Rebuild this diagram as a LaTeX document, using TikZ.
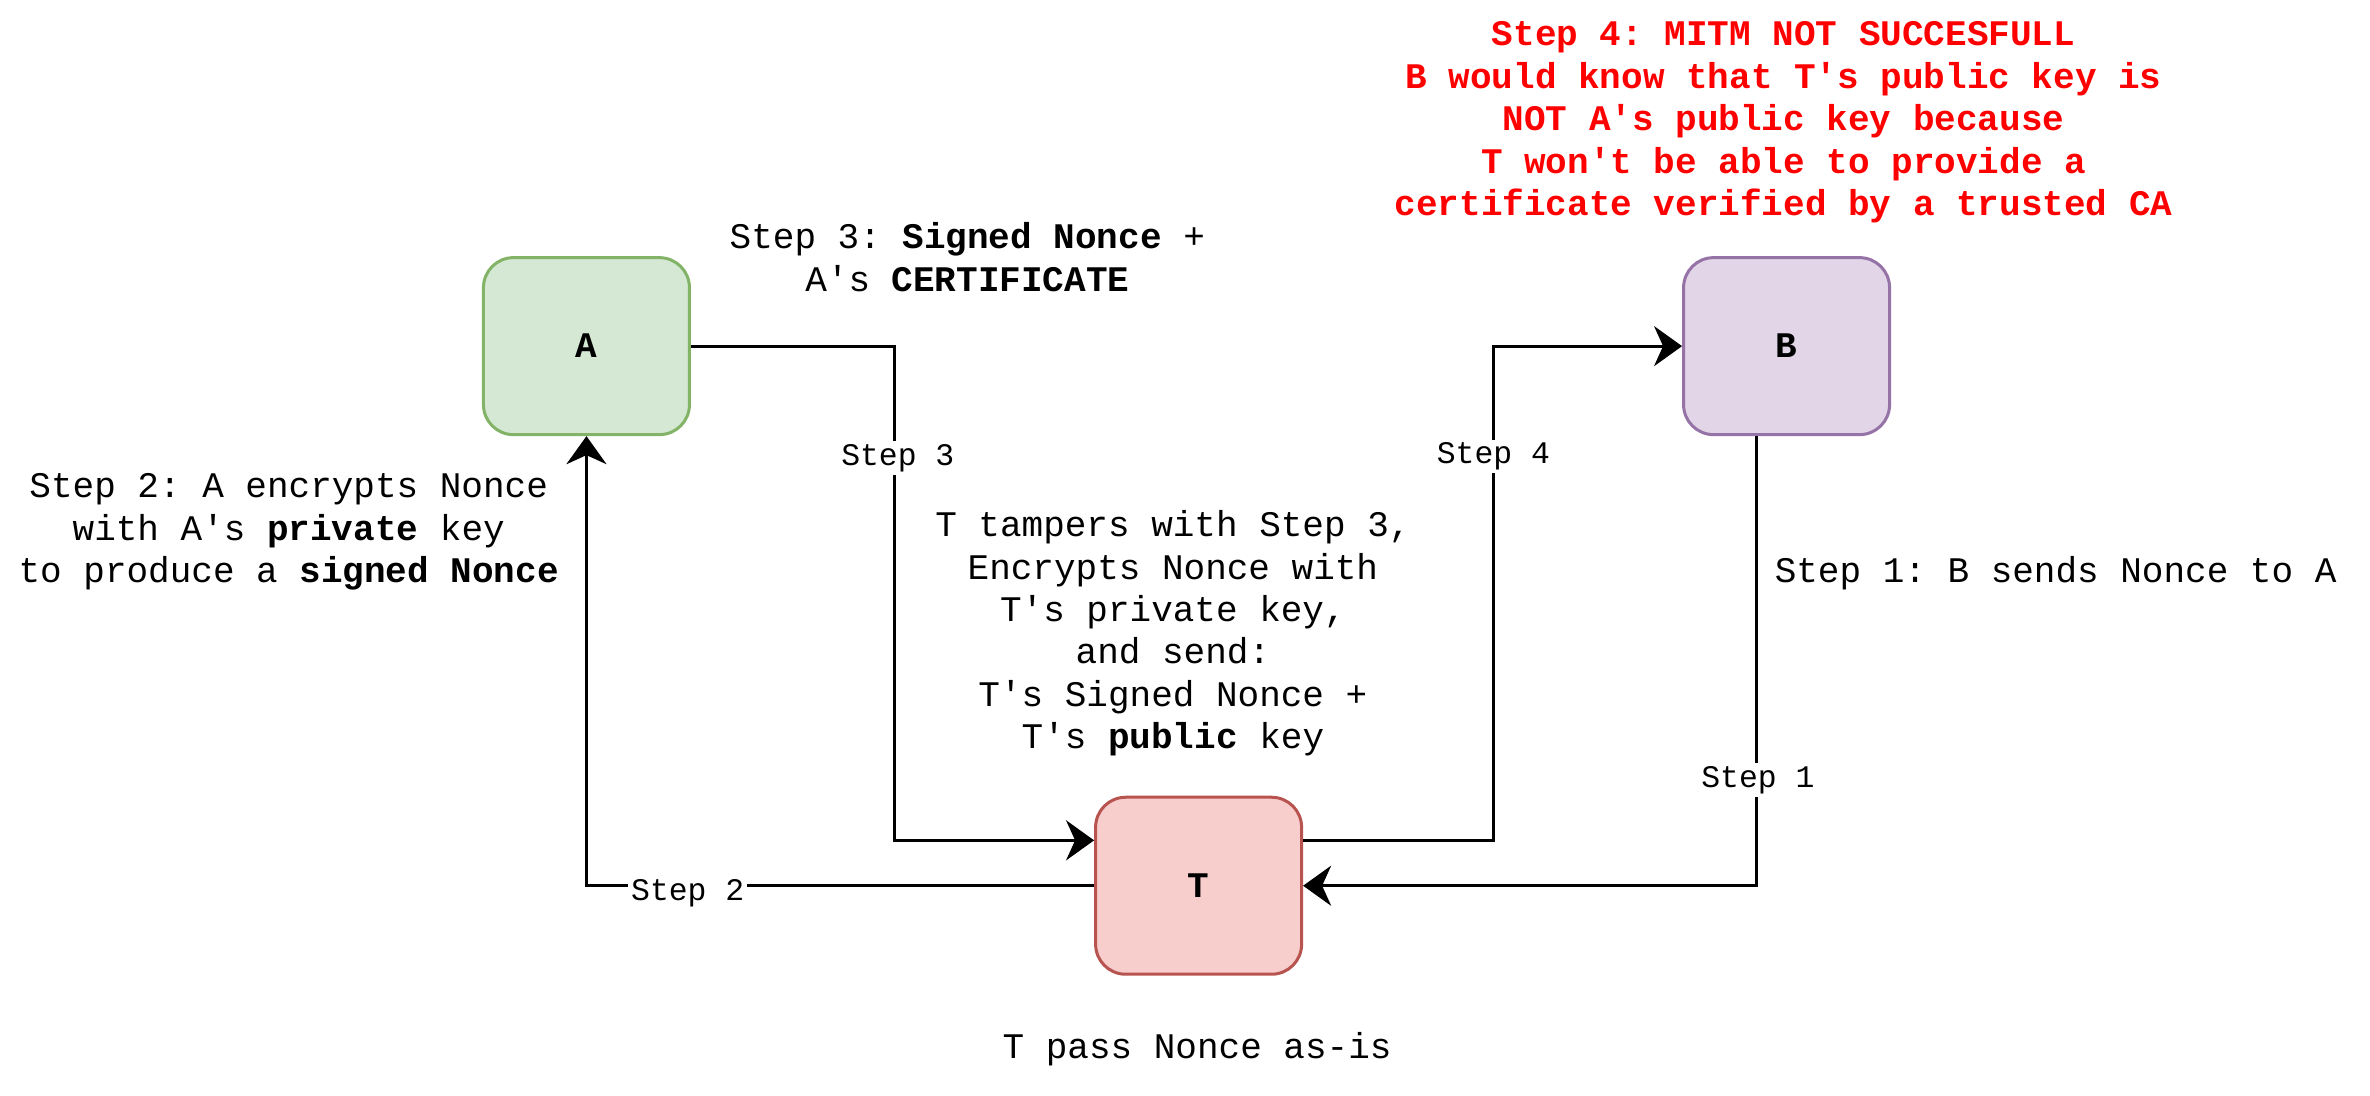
\documentclass[tikz,border=0pt]{standalone}
\usepackage{fontspec}
\setmainfont{Liberation Mono}[Ligatures=TeXOff]
\usetikzlibrary{arrows.meta}
\definecolor{gfill}{HTML}{D5E8D4}\definecolor{gline}{HTML}{82B366}
\definecolor{pfill}{HTML}{E1D5E7}\definecolor{pline}{HTML}{9673A6}
\definecolor{rfill}{HTML}{F8CECC}\definecolor{rline}{HTML}{B85450}
\definecolor{alert}{HTML}{FF0000}
\begin{document}
\frenchspacing
\begin{tikzpicture}[x=0.75574pt,y=-0.75574pt,
  box/.style={draw, line width=1.5pt, rounded corners=15pt, minimum width=103pt, minimum height=88.5pt, inner sep=0pt, font=\fontsize{18}{21.2}\selectfont\bfseries},
  txt/.style={align=center, inner sep=0pt, font=\fontsize{18}{21.2}\selectfont},
  elabel/.style={fill=white, inner sep=1.5pt, font=\fontsize{15.7}{18}\selectfont},
  arr/.style={line width=1.6pt, -{Stealth[length=14pt,width=20pt,inset=4.5pt]}}]
\useasboundingbox (0,0) rectangle (1568,724.5);
% boxes
\node[box, fill=gfill, draw=gline] (A) at (388,229) {A};
\node[box, fill=pfill, draw=pline] (B) at (1182,229) {B};
\node[box, fill=rfill, draw=rline] (T) at (793,586) {T};
% helper coordinates
\coordinate (c3) at (592,0);
\coordinate (c4) at (988,0);
% connectors
\draw[arr] (A.east) -- (A.east -| c3) |- ([yshift=22.7pt]T.west);
\draw[arr] (T.west) -| (A.south);
\draw[arr] ([yshift=22.7pt]T.east) -- ([yshift=22.7pt]T.east -| c4) |- (B.west);
\draw[arr] ([xshift=-15.1pt]B.south) |- (T.east);
% edge labels
\node[elabel] (l3) at (594,303) {Step 3};
\node[elabel] (l4) at (988,302) {Step 4};
\node[elabel] (l1) at (1163,516) {Step 1};
\node[elabel] (l2) at (455,591) {Step 2};
% texts
\node[txt] (t3) at (640,170) {Step 3: \textbf{Signed Nonce} +\\A's \textbf{CERTIFICATE}};
\node[txt] (t2) at (191,352) {Step 2: A encrypts Nonce\\with A's \textbf{private} key\\to produce a \textbf{signed Nonce}};
\node[txt] (tm) at (776,419) {T tampers with Step 3,\\Encrypts Nonce with\\T's private key,\\and send:\\T's Signed Nonce +\\T's \textbf{public} key};
\node[txt] (t1) at (1360,379) {Step 1: B sends Nonce to A};
\node[txt] (tp) at (792,694) {T pass Nonce as-is};
\node[txt, text=alert, font=\fontsize{18}{21.2}\selectfont\bfseries] (t4) at (1180,81) {Step 4: MITM NOT SUCCESFULL\\B would know that T's public key is\\NOT A's public key because\\T won't be able to provide a\\certificate verified by a trusted CA};
\end{tikzpicture}
\end{document}
